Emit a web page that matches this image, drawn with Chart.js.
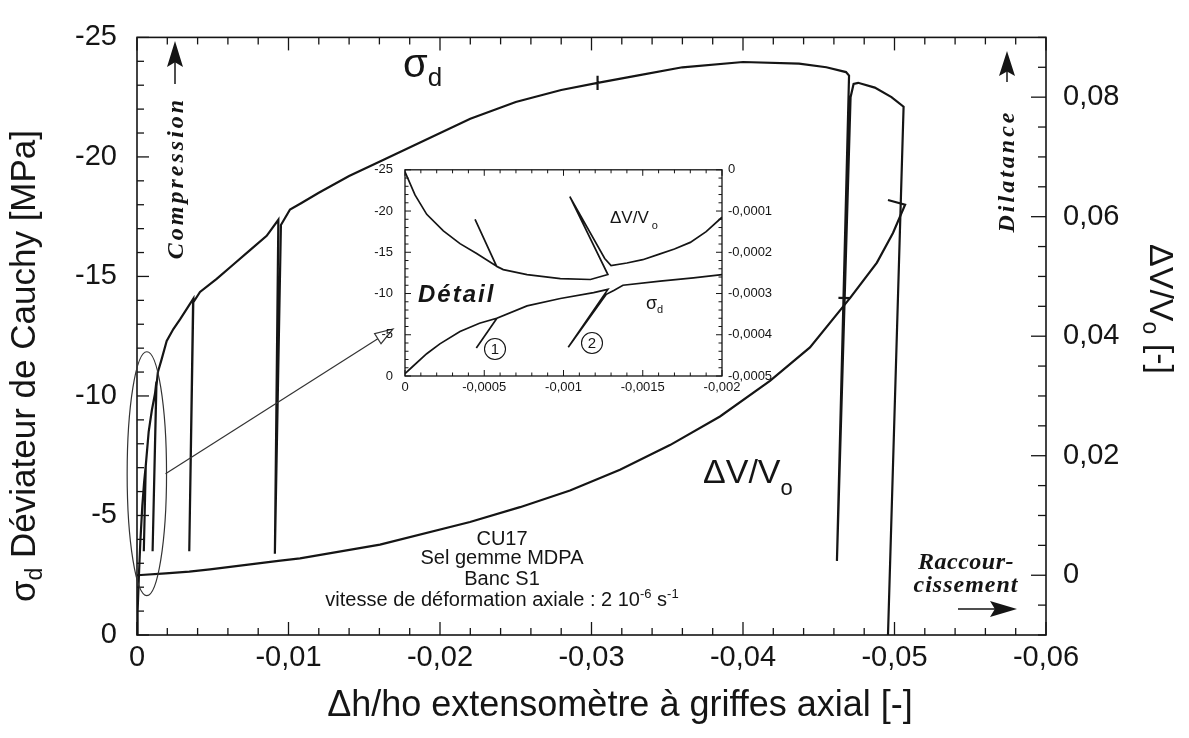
<!DOCTYPE html>
<html><head><meta charset="utf-8">
<script src="https://cdn.jsdelivr.net/npm/chart.js@4.4.1/dist/chart.umd.min.js"></script>
<style>
html,body{margin:0;padding:0;background:#fff;}
#wrap{position:relative;width:1189px;height:738px;overflow:hidden;background:#fff;}
#main{position:absolute;left:0;top:0;width:1189px;height:738px;}
#inset{position:absolute;left:360px;top:150px;width:430px;height:255px;}
</style></head><body>
<div id="wrap"><canvas id="main" width="1189" height="738"></canvas><canvas id="inset" width="430" height="255"></canvas></div>
<script>
// ---------- main chart data ----------
const sigmaStrain = [0, -0.00004, -0.00014, -0.00022, -0.00035, -0.00047, -0.00058, -0.00045, -0.00058, -0.00077, -0.00098, -0.00119, -0.00128, -0.00103, -0.00128, -0.00138, -0.00161, -0.00196, -0.0024, -0.00284, -0.00372, -0.00345, -0.0037, -0.00416, -0.00526, -0.00636, -0.00746, -0.00856, -0.00933, -0.0091, -0.0095, -0.0101, -0.0108, -0.012, -0.014, -0.016, -0.019, -0.022, -0.025, -0.028, -0.0304, -0.0304, -0.0304, -0.0304, -0.033, -0.036, -0.04, -0.0437, -0.0455, -0.0468, -0.047, -0.0462, -0.0471, -0.0473, -0.0476, -0.0487, -0.0498, -0.0506, -0.04957];
const sigmaStress = [0, -1.0, -2.7, -3.9, -5.4, -6.4, -7.1, -3.5, -7.1, -8.5, -9.4, -10.1, -10.6, -3.5, -10.4, -11.0, -11.5, -12.3, -12.8, -13.2, -14.07, -3.5, -13.9, -14.35, -14.9, -15.5, -16.1, -16.7, -17.37, -3.4, -17.15, -17.8, -18.05, -18.5, -19.2, -19.8, -20.7, -21.6, -22.3, -22.8, -23.1, -23.4, -22.8, -23.1, -23.4, -23.75, -23.97, -23.9, -23.75, -23.55, -23.4, -3.1, -22.5, -23.05, -23.1, -22.9, -22.5, -22.1, 0];
const dvStrain = [0, -0.0019, -0.00345, -0.00482, -0.00933, -0.01076, -0.01604, -0.02198, -0.02528, -0.02858, -0.03188, -0.03518, -0.03848, -0.04178, -0.04442, -0.04706, -0.0463, -0.04706, -0.04884, -0.0499, -0.0507, -0.04957];
const dvValue = [0, 0.0003, 0.0006, 0.00099, 0.0024, 0.00281, 0.00512, 0.00891, 0.01139, 0.01419, 0.01766, 0.02178, 0.02657, 0.03251, 0.03812, 0.04637, 0.0464, 0.04637, 0.05231, 0.05726, 0.062, 0.0628];
const xTickValues = [0, -0.01, -0.02, -0.03, -0.04, -0.05, -0.06];
const sigmaTickValues = [0, -5, -10, -15, -20, -25];
const dvTickValues = [0, 0.02, 0.04, 0.06, 0.08];

// ---------- inset (Détail) data ----------
const inSigmaStrain = [0, -0.00004, -0.000137, -0.00022, -0.000347, -0.00047, -0.00058, -0.00045, -0.00058, -0.00077, -0.00098, -0.00119, -0.00128, -0.00103, -0.00127, -0.00132, -0.001375, -0.00161, -0.00182, -0.002];
const inSigmaStress = [-0.3, -1.0, -2.7, -3.9, -5.4, -6.4, -7.0, -3.4, -7.0, -8.5, -9.4, -10.1, -10.5, -3.5, -9.9, -10.4, -11.0, -11.5, -11.9, -12.3];
const inDvStrain = [0, -0.000063, -0.000137, -0.000242, -0.000347, -0.000452, -0.000578, -0.000442, -0.000578, -0.00062, -0.00077, -0.00098, -0.00117, -0.00128, -0.00104, -0.00126, -0.0013, -0.0014, -0.0015, -0.0016, -0.0017, -0.0018, -0.0019, -0.002];
const inDvValue = [-0.000005, -0.000061, -0.000108, -0.000148, -0.000179, -0.000203, -0.000234, -0.00012, -0.000234, -0.000242, -0.000254, -0.000264, -0.000266, -0.000254, -0.000065, -0.000215, -0.000232, -0.000226, -0.000218, -0.000205, -0.000192, -0.000176, -0.00015, -0.000115];
const inXTickValues = [0, -0.0005, -0.001, -0.0015, -0.002];
const inSigmaTickValues = [0, -5, -10, -15, -20, -25];
const inDvTickValues = [0, -0.0001, -0.0002, -0.0003, -0.0004, -0.0005];

// ---------- helpers ----------
const SANS = '"Liberation Sans", Arial, Helvetica, sans-serif';
const SERIF = '"Liberation Serif", "Times New Roman", Times, serif';
const INK = '#151515';

function fmt(v){ const r = Math.round(v*1e7)/1e7; if (r === 0) return '0'; return String(r).replace('.', ','); }
function steps(a, b, s){ const n = Math.round((b-a)/s); const out = []; for (let i=0;i<=n;i++) out.push(+(a+i*s).toFixed(10)); return out; }
function isMult(v, s){ const q = v/s; return Math.abs(q-Math.round(q)) < 1e-6; }
function seg(ctx,x1,y1,x2,y2){ ctx.beginPath(); ctx.moveTo(x1,y1); ctx.lineTo(x2,y2); ctx.stroke(); }
function rich(ctx, x, y, parts, align){
  let w = 0;
  for (const p of parts){ ctx.font = p.f; ctx.letterSpacing = p.ls || '0px'; p.w = ctx.measureText(p.t).width; w += p.w; }
  let cx = align === 'center' ? x - w/2 : (align === 'right' ? x - w : x);
  ctx.textAlign = 'left'; ctx.textBaseline = 'alphabetic';
  for (const p of parts){ ctx.font = p.f; ctx.letterSpacing = p.ls || '0px'; ctx.fillText(p.t, cx, y + (p.dy||0)); cx += p.w; }
  ctx.letterSpacing = '0px';
}
function rotated(ctx, x, y, ang, parts){ ctx.save(); ctx.translate(x, y); ctx.rotate(ang); rich(ctx, 0, 0, parts, 'center'); ctx.restore(); }
function filledArrow(ctx, x1, y1, x2, y2, headLen, halfW){
  const ang = Math.atan2(y2-y1, x2-x1);
  const bx = x2 - headLen*Math.cos(ang), by = y2 - headLen*Math.sin(ang);
  seg(ctx, x1, y1, x2 - headLen*0.5*Math.cos(ang), y2 - headLen*0.5*Math.sin(ang));
  ctx.beginPath();
  ctx.moveTo(x2, y2);
  ctx.lineTo(bx + halfW*Math.sin(ang), by - halfW*Math.cos(ang));
  ctx.lineTo(x2 - headLen*0.82*Math.cos(ang), y2 - headLen*0.82*Math.sin(ang));
  ctx.lineTo(bx - halfW*Math.sin(ang), by + halfW*Math.cos(ang));
  ctx.closePath(); ctx.fill();
}
function fixedTicks(values){ return s => { s.ticks = values.map(v => ({value: v})); }; }
function pts(xs, ys){ return xs.map((x,i) => ({x: x, y: ys[i]})); }

// ---------- main chart ----------
const mainDecor = {
  id: 'mainDecor',
  afterDraw(chart){
    const ctx = chart.ctx, a = chart.chartArea, x = chart.scales.x, y = chart.scales.y, y2 = chart.scales.y2;
    ctx.save();
    ctx.strokeStyle = INK; ctx.fillStyle = INK;
    ctx.lineWidth = 1.6;
    ctx.strokeRect(a.left, a.top, a.right - a.left, a.bottom - a.top);
    ctx.lineWidth = 1.3;
    for (const v of steps(-0.06, 0, 0.002)){
      const p = x.getPixelForValue(v), L = isMult(v, 0.01) ? 13 : 7;
      seg(ctx, p, a.bottom, p, a.bottom - L); seg(ctx, p, a.top, p, a.top + L);
    }
    for (const v of steps(-25, 0, 1)){
      const p = y.getPixelForValue(v), L = isMult(v, 5) ? 12 : 7;
      seg(ctx, a.left, p, a.left + L, p);
    }
    for (const v of steps(-0.01, 0.09, 0.005)){
      const p = y2.getPixelForValue(v), L = isMult(v, 0.02) ? 15 : 8;
      seg(ctx, a.right, p, a.right - L, p);
    }
    // axis titles
    rich(ctx, 620, 716, [{t: 'Δh/ho extensomètre à griffes axial [-]', f: '36px ' + SANS}], 'center');
    rotated(ctx, 35, 366, -Math.PI/2, [
      {t: 'σ', f: '35px ' + SANS}, {t: 'd', f: '23px ' + SANS, dy: 7},
      {t: ' Déviateur de Cauchy [MPa]', f: '35px ' + SANS}]);
    rotated(ctx, 1150, 309, Math.PI/2, [
      {t: 'ΔV/V', f: '34px ' + SANS}, {t: 'o', f: '23px ' + SANS, dy: 7},
      {t: ' [-]', f: '34px ' + SANS}]);
    // curve labels
    rich(ctx, 403, 77, [{t: 'σ', f: '40px ' + SANS}, {t: 'd', f: '26px ' + SANS, dy: 9}], 'left');
    rich(ctx, 703, 483, [{t: 'ΔV/V', f: '34px ' + SANS}, {t: 'o', f: '22px ' + SANS, dy: 12}], 'left');
    // direction notes
    const bi = 'italic bold 24px ' + SERIF;
    rotated(ctx, 183, 178, -Math.PI/2, [{t: 'Compression', f: bi, ls: '3px'}]);
    rotated(ctx, 1014, 171, -Math.PI/2, [{t: 'Dilatance', f: bi, ls: '3px'}]);
    rich(ctx, 966, 569, [{t: 'Raccour-', f: bi, ls: '0.5px'}], 'center');
    rich(ctx, 966, 592, [{t: 'cissement', f: bi, ls: '1px'}], 'center');
    ctx.lineWidth = 1.5;
    filledArrow(ctx, 175, 84, 175, 41, 26, 8);
    filledArrow(ctx, 1007, 82, 1007, 51, 25, 8);
    filledArrow(ctx, 958, 609, 1017, 609, 27, 8);
    // test info
    const f20 = '20px ' + SANS;
    rich(ctx, 502, 545, [{t: 'CU17', f: f20}], 'center');
    rich(ctx, 502, 564, [{t: 'Sel gemme MDPA', f: f20}], 'center');
    rich(ctx, 502, 585, [{t: 'Banc S1', f: f20}], 'center');
    rich(ctx, 502, 606, [{t: 'vitesse de déformation axiale : 2 10', f: f20}, {t: '-6', f: '13px ' + SANS, dy: -8},
      {t: ' s', f: f20}, {t: '-1', f: '13px ' + SANS, dy: -8}], 'center');
    // detail ellipse and arrow
    const cx = x.getPixelForValue(-0.00065), cy = y.getPixelForValue(-6.75);
    const rx = Math.abs(x.getPixelForValue(-0.0013) - x.getPixelForValue(0));
    const ry = Math.abs(y.getPixelForValue(-5.1) - y.getPixelForValue(0));
    ctx.lineWidth = 1.2; ctx.strokeStyle = '#333';
    ctx.beginPath(); ctx.ellipse(cx, cy, rx, ry, 0, 0, Math.PI*2); ctx.stroke();
    const sx = cx + rx - 1, sy = cy, ex = 393, ey = 329;
    const ang = Math.atan2(ey - sy, ex - sx), hl = 18, hw = 6;
    const bx = ex - hl*Math.cos(ang), by = ey - hl*Math.sin(ang);
    seg(ctx, sx, sy, bx, by);
    ctx.beginPath(); ctx.moveTo(ex, ey);
    ctx.lineTo(bx + hw*Math.sin(ang), by - hw*Math.cos(ang));
    ctx.lineTo(bx - hw*Math.sin(ang), by + hw*Math.cos(ang));
    ctx.closePath(); ctx.stroke();
    ctx.restore();
  }
};

const lineDs = (data, axis, w) => ({data: data, yAxisID: axis, showLine: true, borderColor: INK, borderWidth: w, pointRadius: 0, fill: false, tension: 0});

new Chart(document.getElementById('main'), {
  type: 'scatter',
  data: { datasets: [
    lineDs(pts(sigmaStrain, sigmaStress), 'y', 2.2),
    lineDs(pts(dvStrain, dvValue), 'y2', 2.2)
  ]},
  options: {
    responsive: false, animation: false, devicePixelRatio: 1, events: [],
    layout: {padding: {top: 28, left: 0, right: 0, bottom: 0}},
    plugins: {legend: {display: false}, tooltip: {enabled: false}},
    scales: {
      x: {type: 'linear', position: 'bottom', min: -0.06, max: 0, reverse: true,
          grid: {display: false, drawTicks: false}, border: {display: false},
          ticks: {font: {family: SANS, size: 29}, color: INK, padding: 6, maxRotation: 0, autoSkip: false, callback: v => fmt(v)},
          afterBuildTicks: fixedTicks(xTickValues), afterFit: s => { s.height = 103; }},
      y: {type: 'linear', position: 'left', min: -25, max: 0, reverse: true,
          grid: {display: false, drawTicks: false}, border: {display: false},
          ticks: {font: {family: SANS, size: 29}, color: INK, padding: 20, autoSkip: false, callback: v => fmt(v)},
          afterBuildTicks: fixedTicks(sigmaTickValues), afterFit: s => { s.width = 137; }},
      y2: {type: 'linear', position: 'right', min: -0.01, max: 0.09,
          grid: {display: false, drawTicks: false}, border: {display: false},
          ticks: {font: {family: SANS, size: 29}, color: INK, padding: 17, autoSkip: false, callback: v => fmt(v)},
          afterBuildTicks: fixedTicks(dvTickValues), afterFit: s => { s.width = 143; }}
    }
  },
  plugins: [mainDecor]
});

// ---------- inset chart ----------
const OX = 360, OY = 150;
const insetDecor = {
  id: 'insetDecor',
  afterDraw(chart){
    const ctx = chart.ctx, a = chart.chartArea, x = chart.scales.x, y = chart.scales.y, y2 = chart.scales.y2;
    ctx.save();
    ctx.strokeStyle = INK; ctx.fillStyle = INK;
    ctx.lineWidth = 1.3;
    ctx.strokeRect(a.left, a.top, a.right - a.left, a.bottom - a.top);
    ctx.lineWidth = 1;
    for (const v of steps(-0.002, 0, 0.0001)){
      const p = x.getPixelForValue(v), L = isMult(v, 0.0005) ? 6 : 3.5;
      seg(ctx, p, a.bottom, p, a.bottom - L); seg(ctx, p, a.top, p, a.top + L);
    }
    for (const v of steps(-25, 0, 1)){
      const p = y.getPixelForValue(v), L = isMult(v, 5) ? 6 : 3.5;
      seg(ctx, a.left, p, a.left + L, p);
    }
    for (const v of steps(-0.0005, 0, 0.00002)){
      const p = y2.getPixelForValue(v), L = isMult(v, 0.0001) ? 6 : 3.5;
      seg(ctx, a.right, p, a.right - L, p);
    }
    rich(ctx, 610 - OX, 223 - OY, [{t: 'ΔV/V', f: '17px ' + SANS}, {t: ' o', f: '11px ' + SANS, dy: 6}], 'left');
    rich(ctx, 646 - OX, 309 - OY, [{t: 'σ', f: '18px ' + SANS}, {t: 'd', f: '11px ' + SANS, dy: 4}], 'left');
    rich(ctx, 418 - OX, 302 - OY, [{t: 'Détail', f: 'italic bold 24px ' + SANS, ls: '2px'}], 'left');
    ctx.lineWidth = 1.1;
    const circ = [[495, 349, '1'], [592, 343, '2']];
    for (const c of circ){
      ctx.beginPath(); ctx.arc(c[0] - OX, c[1] - OY, 10.5, 0, Math.PI*2); ctx.stroke();
      ctx.font = '15px ' + SANS; ctx.textAlign = 'center'; ctx.textBaseline = 'middle';
      ctx.fillText(c[2], c[0] - OX, c[1] - OY + 1);
    }
    ctx.restore();
  }
};

new Chart(document.getElementById('inset'), {
  type: 'scatter',
  data: { datasets: [
    lineDs(pts(inSigmaStrain, inSigmaStress), 'y', 1.7),
    lineDs(pts(inDvStrain, inDvValue), 'y2', 1.7)
  ]},
  options: {
    responsive: false, animation: false, devicePixelRatio: 1, events: [],
    layout: {padding: {top: 14, left: 0, right: 0, bottom: 0}},
    plugins: {legend: {display: false}, tooltip: {enabled: false}},
    scales: {
      x: {type: 'linear', position: 'bottom', min: -0.002, max: 0, reverse: true,
          grid: {display: false, drawTicks: false}, border: {display: false},
          ticks: {font: {family: SANS, size: 13}, color: INK, padding: 4, maxRotation: 0, autoSkip: false, callback: v => fmt(v)},
          afterBuildTicks: fixedTicks(inXTickValues), afterFit: s => { s.height = 29; }},
      y: {type: 'linear', position: 'left', min: -25, max: 0, reverse: true,
          grid: {display: false, drawTicks: false}, border: {display: false},
          ticks: {font: {family: SANS, size: 13}, color: INK, padding: 12, autoSkip: false, callback: v => fmt(v)},
          afterBuildTicks: fixedTicks(inSigmaTickValues), afterFit: s => { s.width = 45; }},
      y2: {type: 'linear', position: 'right', min: -0.0005, max: 0,
          grid: {display: false, drawTicks: false}, border: {display: false},
          ticks: {font: {family: SANS, size: 13}, color: INK, padding: 6, autoSkip: false, callback: v => fmt(v)},
          afterBuildTicks: fixedTicks(inDvTickValues), afterFit: s => { s.width = 68; }}
    }
  },
  plugins: [insetDecor]
});
</script>
</body></html>
